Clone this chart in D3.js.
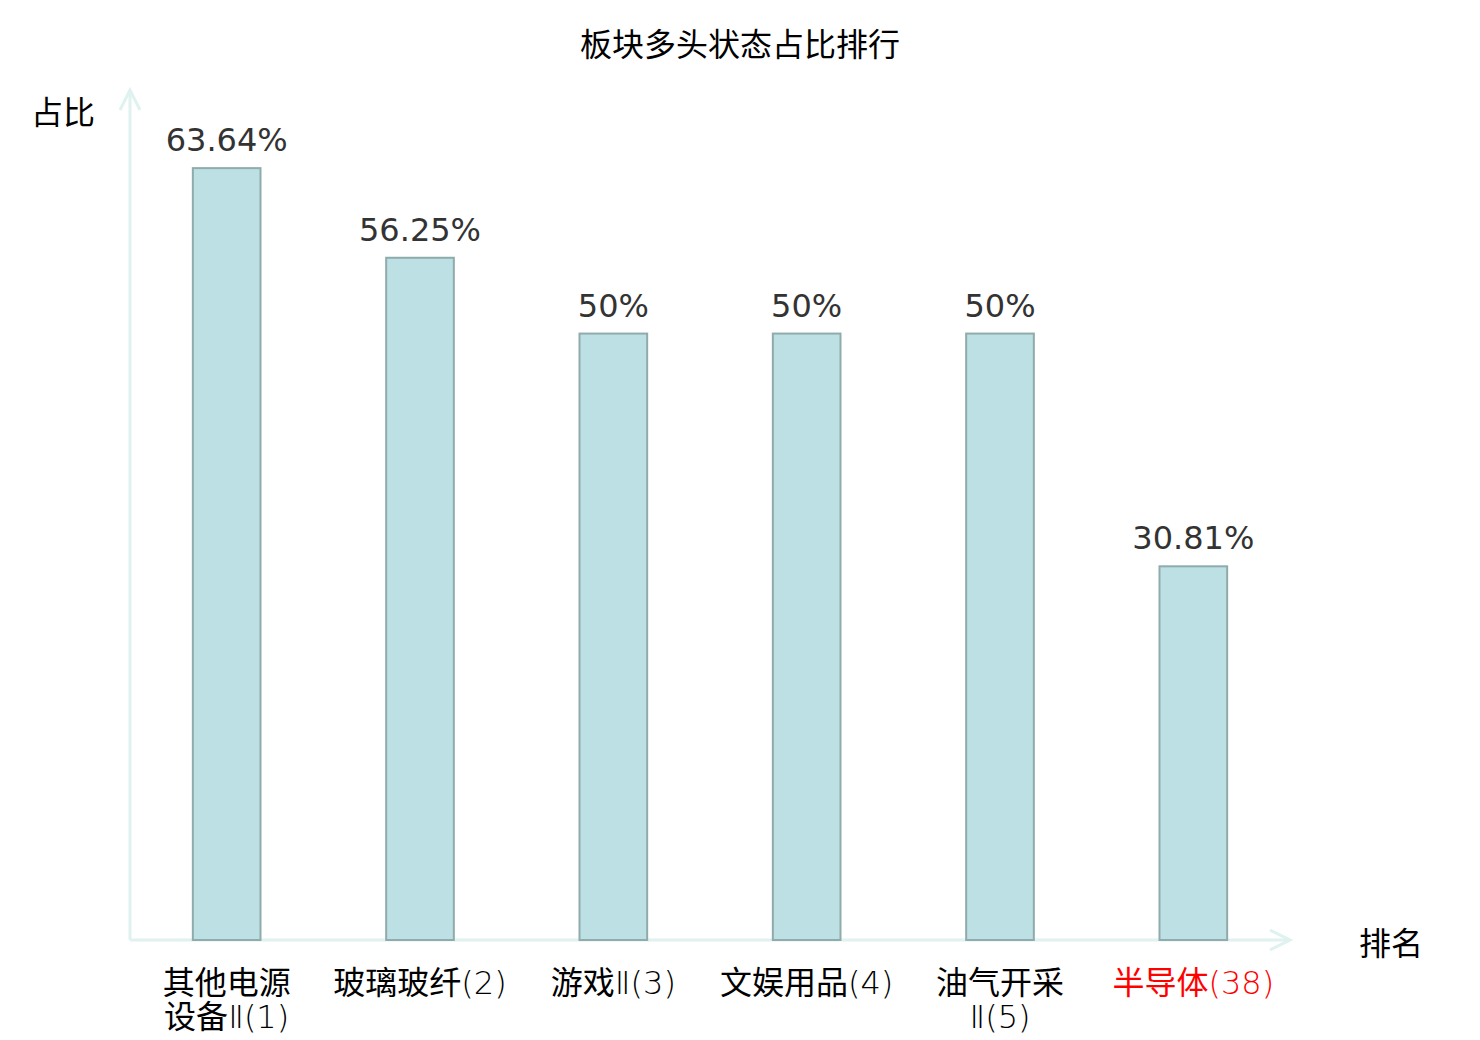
<!DOCTYPE html>
<html><head><meta charset="utf-8">
<script src="https://cdn.jsdelivr.net/npm/d3@7/dist/d3.min.js"></script>
<style>body{margin:0;background:#fff}svg{display:block}</style>
</head><body>
<svg id="c" width="1480" height="1040"></svg>
<script>
const categories = ["其他电源\n设备Ⅱ(1)", "玻璃玻纤(2)", "游戏Ⅱ(3)", "文娱用品(4)", "油气开采\nⅡ(5)", "半导体(38)"];
const values = [63.64, 56.25, 50, 50, 50, 30.81];
const valueLabels = ["63.64%", "56.25%", "50%", "50%", "50%", "30.81%"];
const highlight = ["半导体(38)"];
const title = "板块多头状态占比排行";
const yName = "占比", xName = "排名";

const svg = d3.select("#c");
const x0 = 130, x1 = 1290, yBase = 940, yTop = 91;
const x = d3.scaleBand().domain(categories).range([x0, x1]).paddingInner(0.65).paddingOuter(0.325);
const y = d3.scaleLinear().domain([0, 70]).range([yBase, yTop]);
const axisColor = "#dff2ef";
const cjk = "'Noto Sans CJK SC', 'Noto Sans', sans-serif";

svg.append("text").attr("x", 740).attr("y", 42).attr("text-anchor", "middle")
  .attr("dominant-baseline", "central").style("font-family", cjk).style("font-size", "32px")
  .attr("fill", "#000").text(title);

// axes
const g = svg.append("g").attr("fill", "none").attr("stroke", axisColor).attr("stroke-width", 3);
g.append("line").attr("x1", x0).attr("x2", x0).attr("y1", yBase).attr("y2", y(70) - 1);
g.append("line").attr("x1", x0).attr("x2", x1).attr("y1", yBase).attr("y2", yBase);
g.append("path").attr("d", `M${x0-10},${y(70)+19}L${x0},${y(70)-1}L${x0+10},${y(70)+19}`);
g.append("path").attr("d", `M${x1-20},${yBase-10}L${x1},${yBase}L${x1-20},${yBase+10}`);

svg.append("text").attr("x", 63).attr("y", 110).attr("text-anchor", "middle")
  .attr("dominant-baseline", "central").style("font-family", cjk).style("font-size", "32px").text(yName);
svg.append("text").attr("x", 1391).attr("y", 941).attr("text-anchor", "middle")
  .attr("dominant-baseline", "central").style("font-family", cjk).style("font-size", "32px").text(xName);

// bars
svg.selectAll("rect.bar").data(categories).join("rect").attr("class", "bar")
  .attr("x", d => x(d)).attr("width", x.bandwidth())
  .attr("y", (d, i) => y(values[i])).attr("height", (d, i) => yBase - y(values[i]))
  .attr("fill", "#bce0e3").attr("stroke", "#8fabab").attr("stroke-width", 2);

svg.selectAll("text.val").data(categories).join("text").attr("class", "val")
  .attr("x", d => x(d) + x.bandwidth() / 2).attr("y", (d, i) => y(values[i]) - 17)
  .attr("text-anchor", "middle").style("font-family", "'DejaVu Sans', sans-serif").style("font-size", "32px")
  .attr("fill", "#333").text((d, i) => valueLabels[i]);

// tick labels: regular CJK glyphs, thin latin glyphs, shared alphabetic baseline
const runRe = /([\u4e00-\u9fff]+|[^\u4e00-\u9fff]+)/g;
categories.forEach(c => {
  const cx = x(c) + x.bandwidth() / 2;
  c.split("\n").forEach((l, i) => {
    const t = svg.append("text").attr("text-anchor", "middle")
      .attr("x", cx).attr("y", 994 + i * 34)
      .style("font-size", "32px")
      .attr("fill", highlight.includes(c) ? "#ff0000" : "#000");
    (l.match(runRe) || []).forEach(run => {
      const isCjk = /[\u4e00-\u9fff]/.test(run);
      t.append("tspan").text(run)
        .style("font-family", isCjk ? cjk : "'DejaVu Sans', sans-serif")
        .style("font-weight", isCjk ? 400 : 200);
    });
  });
});
</script>
</body></html>
